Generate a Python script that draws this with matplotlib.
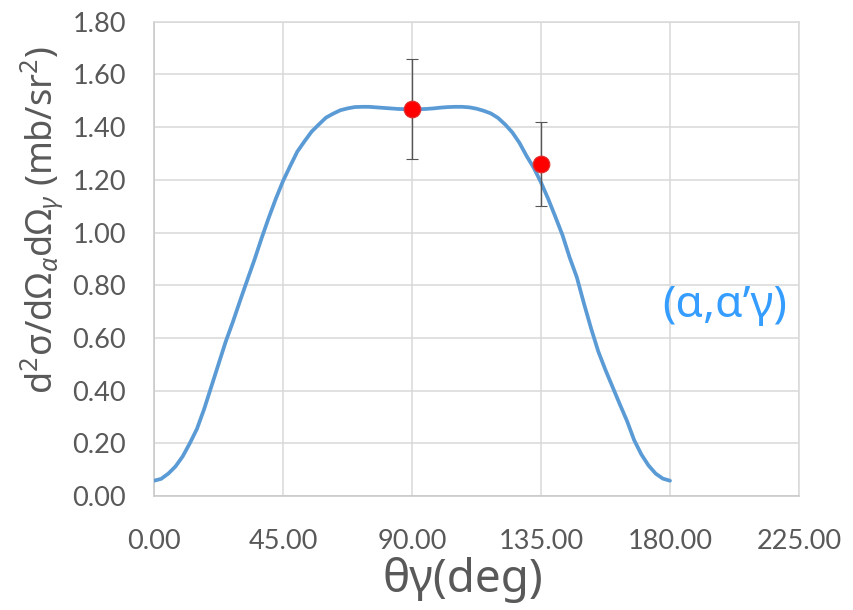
import matplotlib
matplotlib.use("Agg")
import matplotlib.pyplot as plt

plt.rcParams['font.family'] = ['Lato', 'Noto Sans', 'DejaVu Sans']
plt.rcParams['mathtext.fontset'] = 'custom'
plt.rcParams['mathtext.rm'] = 'Noto Sans'
plt.rcParams['mathtext.it'] = 'Noto Sans:italic'
plt.rcParams['mathtext.bf'] = 'Noto Sans:bold'

# Calculated angular correlation (alpha, alpha' gamma)
theta = [0, 2.5, 5, 7.5, 10, 12.5, 15, 17.5, 20, 22.5, 25, 27.5, 30, 32.5, 35, 37.5,
         40, 42.5, 45, 47.5, 50, 52.5, 55, 57.5, 60, 62.5, 65, 67.5, 70, 72.5, 75,
         77.5, 80, 82.5, 85, 87.5, 90, 92.5, 95, 97.5, 100, 102.5, 105, 107.5, 110,
         112.5, 115, 117.5, 120, 122.5, 125, 127.5, 130, 132.5, 135, 137.5, 140,
         142.5, 145, 147.5, 150, 152.5, 155, 157.5, 160, 162.5, 165, 167.5, 170,
         172.5, 175, 177.5, 180]
cross_section = [0.058, 0.065, 0.085, 0.112, 0.150, 0.200, 0.255, 0.330, 0.415, 0.500,
                 0.585, 0.660, 0.740, 0.818, 0.895, 0.977, 1.055, 1.128, 1.195, 1.252,
                 1.307, 1.346, 1.383, 1.410, 1.436, 1.451, 1.464, 1.471, 1.476, 1.477,
                 1.477, 1.475, 1.473, 1.471, 1.469, 1.468, 1.467, 1.468, 1.469, 1.471,
                 1.474, 1.476, 1.477, 1.477, 1.475, 1.470, 1.462, 1.452, 1.435, 1.410,
                 1.380, 1.340, 1.290, 1.245, 1.190, 1.128, 1.060, 0.990, 0.905, 0.830,
                 0.730, 0.635, 0.548, 0.478, 0.413, 0.348, 0.285, 0.212, 0.158, 0.116,
                 0.085, 0.066, 0.058]

# Measured points
meas_theta = [90, 135]
meas_value = [1.47, 1.26]
meas_err = [0.19, 0.16]

xticks = [0, 45, 90, 135, 180, 225]
yticks = [0.0, 0.2, 0.4, 0.6, 0.8, 1.0, 1.2, 1.4, 1.6, 1.8]

fig = plt.figure(figsize=(8.54, 6.10), dpi=100)
ax = fig.add_axes([0.1803, 0.1869, 0.7553, 0.7775])

ax.plot(theta, cross_section, color='#5B9BD5', lw=2.7, solid_capstyle='round',
        solid_joinstyle='round', zorder=3)
ax.errorbar(meas_theta, meas_value, yerr=meas_err, fmt='o', color='#FF0000',
            markersize=12, markeredgecolor='#E03030', markeredgewidth=0.8,
            ecolor='#555555', elinewidth=1.0, capsize=4, capthick=1.0, zorder=4)

ax.set_xlim(0, 225)
ax.set_ylim(0, 1.8)
ax.set_xticks(xticks)
ax.set_yticks(yticks)
ax.set_xticklabels([f"{v:.2f}" for v in xticks])
ax.set_yticklabels([f"{v:.2f}" for v in yticks])
ax.tick_params(axis='both', length=0, labelsize=19.5, labelcolor='#595959')
ax.tick_params(axis='x', pad=24)
ax.tick_params(axis='y', pad=20)

ax.grid(True, color='#D9D9D9', lw=1.1)
ax.set_axisbelow(True)
for s in ax.spines.values():
    s.set_color('#D9D9D9')
    s.set_linewidth(1.1)
ax.spines['left'].set_color('#C8C8C8')
ax.spines['bottom'].set_color('#C8C8C8')

fig.text(0.5415, 0.049, 'θγ(deg)', ha='center', va='center', fontsize=33,
         color='#595959', family=['Noto Sans', 'DejaVu Sans'])
fig.text(0.050, 0.64, r'd$^2$σ/dΩ$_α$dΩ$_γ$ (mb/sr$^2$)', rotation=90,
         ha='center', va='center', fontsize=26, color='#595959',
         family=['Noto Sans', 'DejaVu Sans'])

ax.text(199, 0.72, '(α,α’γ)', ha='center', va='center', fontsize=32,
        color='#349DFF', family=['Noto Sans', 'DejaVu Sans'])

fig.savefig('out.png', dpi=100, facecolor='white')
